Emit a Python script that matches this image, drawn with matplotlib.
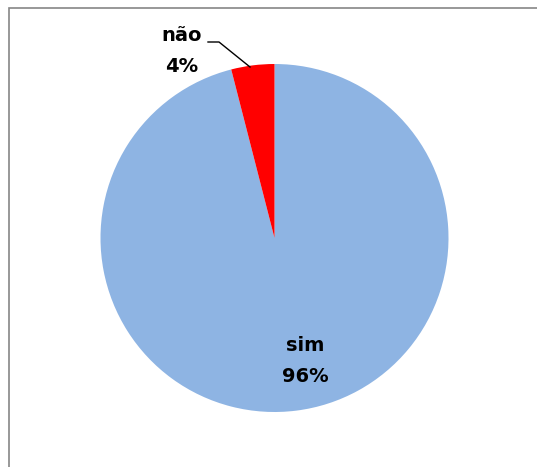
import matplotlib.pyplot as plt
from matplotlib.patches import Rectangle

labels = ["sim", "não"]
values = [96, 4]
colors = ["#8EB4E3", "#FF0000"]

W, H = 537, 467
fig = plt.figure(figsize=(W / 100, H / 100), dpi=100)
ax = fig.add_axes([0, 0, 1, 1])

# chart frame (only left and top edges fall inside the image)
ax.add_patch(Rectangle((8.5, -20), 600, H - 7.5 + 20, fill=False,
                       edgecolor="#868686", linewidth=1.2))

cx, cy, r = 274.5, H - 238, 174
wedges, _ = ax.pie(values, colors=colors, startangle=90, counterclock=False,
                   center=(cx, cy), radius=r, frame=True,
                   wedgeprops=dict(linewidth=0))
ax.set_xlim(0, W)
ax.set_ylim(0, H)
ax.set_aspect("equal")
ax.axis("off")

total = sum(values)
ax.text(305, H - 361, f"{labels[0]}\n{values[0] / total:.0%}", ha="center",
        va="center", fontsize=14, fontweight="bold", linespacing=1.75)
ax.text(182, H - 51, f"{labels[1]}\n{values[1] / total:.0%}", ha="center",
        va="center", fontsize=14, fontweight="bold", linespacing=1.75)
ax.plot([208, 219, 250], [H - 42, H - 42, H - 67], color="black", linewidth=1)

fig.savefig("out.png", dpi=100)
